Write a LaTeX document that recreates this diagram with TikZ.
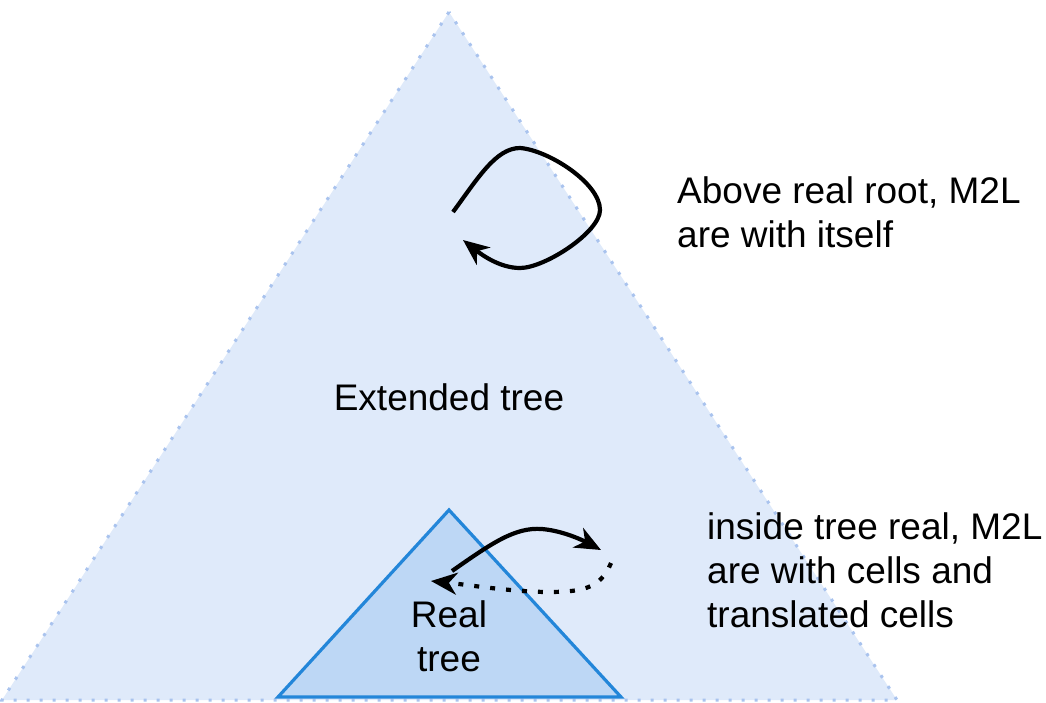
\documentclass[tikz,border=0pt]{standalone}
\usepackage{fontspec}
\setmainfont{Liberation Sans}
\usetikzlibrary{arrows.meta}
\definecolor{extfill}{HTML}{DFEAFA}
\definecolor{extline}{HTML}{A9C3EE}
\definecolor{realfill}{HTML}{BDD7F5}
\definecolor{realline}{HTML}{2386D9}
\tikzset{
  lbl/.style={inner sep=0pt, font=\fontsize{37}{44}\selectfont},
  conn/.style={line width=4.2pt, black, -{Stealth[length=26pt,width=22pt,inset=8pt]}},
  dotconn/.style={conn, line cap=butt, dash pattern=on 5pt off 11pt},
}
\begin{document}
\begin{tikzpicture}[x=1pt,y=-1pt]
\useasboundingbox (0,0) rectangle (1046,702);
% extended tree
\coordinate (ea) at (449,12);
\coordinate (el) at (2,700);
\coordinate (er) at (897,700);
\fill[extfill] (ea) -- (el) -- (er) -- cycle;
\draw[extline, line width=3pt, dash pattern=on 3pt off 10pt] (ea) -- (el) -- (er) -- cycle;
% real tree
\coordinate (ra) at (449,510);
\coordinate (rl) at (278,697);
\coordinate (rr) at (621,697);
\draw[realline, fill=realfill, line width=3.2pt, line join=miter] (ra) -- (rl) -- (rr) -- cycle;
% labels (base anchor = baseline of the last line)
\node[lbl, anchor=base] (ext) at (449,410) {Extended tree};
\node[lbl, anchor=base, align=center] (real) at (449,671) {Real\\tree};
\node[lbl, anchor=base west, align=left] (above) at (677,247) {Above real root, M2L\\are with itself};
\node[lbl, anchor=base west, align=left] (inside) at (707,627) {inside tree real, M2L\\are with cells and\\translated cells};
% loop above
\coordinate (l0) at (453,212);
\coordinate (l1) at (463,240);
\draw[conn] (l0) .. controls (478,178) and (496,148) .. (520,148)
  .. controls (548,150) and (600,183) .. (600,210)
  .. controls (600,232) and (545,268) .. (520,268)
  .. controls (500,268) and (482,255) .. (l1);
% arrows in real tree
\coordinate (s0) at (452,571);
\coordinate (s1) at (601,550);
\draw[conn] (s0) .. controls (492,543) and (515,527) .. (542,529)
  .. controls (565,531) and (586,542) .. (s1);
\coordinate (d0) at (611,563);
\coordinate (d1) at (431,581);
\draw[dotconn] (d0) .. controls (600,590) and (580,592) .. (545,592)
  .. controls (505,591) and (470,585) .. (d1);
\end{tikzpicture}
\end{document}
